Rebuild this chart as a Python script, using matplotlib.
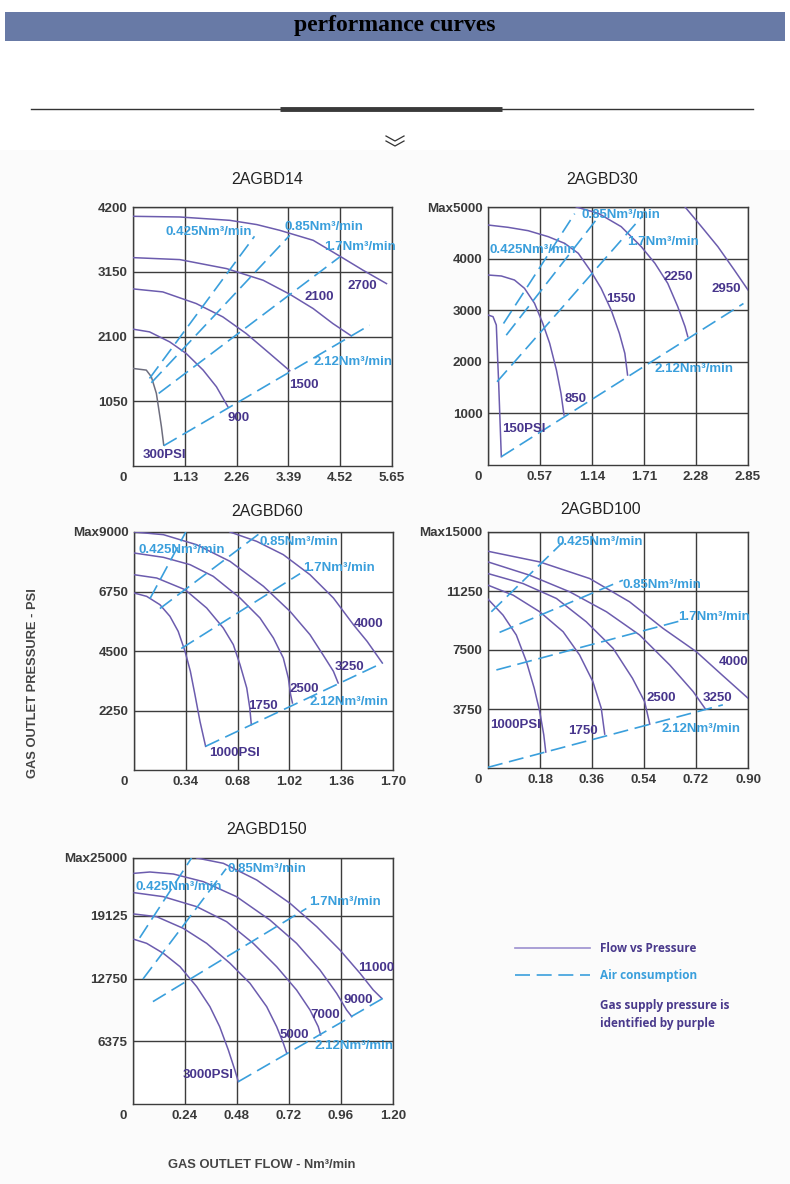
import matplotlib
matplotlib.use("Agg")
import matplotlib.pyplot as plt
from matplotlib.patches import Rectangle

W, H = 790, 1184

PURPLE = "#6c5cae"
LABEL_PURPLE = "#47358c"
BLUE = "#3a9fdc"
GRID = "#3c3c3c"
TICK = "#3a3a3a"

plt.rcParams["font.family"] = ["Liberation Sans", "DejaVu Sans"]

# ---- 2AGBD14 -------------------------------------------------------------
d14_xticks = [0, 1.13, 2.26, 3.39, 4.52, 5.65]
d14_yticks = [1050, 2100, 3150, 4200]
d14_ylabels = ["1050", "2100", "3150", "4200"]
d14_flow = {
    "2700": [0, 1.02, 2.11, 2.70, 3.20, 3.93, 4.54, 5.02, 5.53],
    "2100": [0, 1.02, 2.04, 2.84, 3.42, 3.93, 4.36, 4.76],
    "1500": [0, 0.65, 1.38, 1.96, 2.47, 2.98, 3.42],
    "900": [0, 0.36, 0.80, 1.16, 1.53, 1.82, 2.07],
    "300PSI": [0, 0.29, 0.40, 0.51, 0.62, 0.67],
}
d14_psi = {
    "2700": [4049, 4038, 3984, 3915, 3822, 3660, 3390, 3174, 2958],
    "2100": [3379, 3347, 3201, 3012, 2785, 2553, 2310, 2111],
    "1500": [2872, 2823, 2634, 2418, 2148, 1825, 1544],
    "900": [2219, 2175, 2013, 1825, 1555, 1285, 961],
    "300PSI": [1582, 1555, 1447, 1177, 637, 340],
}
d14_air = {
    "0.425": ([0.36, 2.65], [1420, 3725]),
    "0.85": ([0.40, 3.42], [1350, 3741]),
    "1.7": ([0.56, 4.51], [1177, 3390]),
    "2.12": ([0.67, 5.16], [329, 2283]),
}

# ---- 2AGBD30 -------------------------------------------------------------
d30_xticks = [0, 0.57, 1.14, 1.71, 2.28, 2.85]
d30_yticks = [1000, 2000, 3000, 4000, 5000]
d30_ylabels = ["1000", "2000", "3000", "4000", "Max5000"]
d30_flow = {
    "150PSI": [0, 0.055, 0.091, 0.102, 0.117, 0.13, 0.146],
    "850": [0, 0.146, 0.29, 0.40, 0.51, 0.60, 0.676, 0.75, 0.80, 0.833],
    "1550": [0, 0.22, 0.44, 0.66, 0.84, 0.99, 1.13, 1.24, 1.35, 1.44, 1.50, 1.53],
    "2250": [0.968, 1.21, 1.46, 1.68, 1.83, 1.97, 2.08, 2.16, 2.19],
    "2950": [2.16, 2.34, 2.52, 2.70, 2.85],
}
d30_psi = {
    "150PSI": [2907, 2875, 2713, 2229, 1583, 937, 161],
    "850": [3682, 3663, 3585, 3424, 3133, 2746, 2358, 1841, 1389, 969],
    "1550": [4651, 4606, 4541, 4425, 4296, 4102, 3747, 3424, 3004, 2552, 2164, 1744],
    "2250": [5000, 4877, 4619, 4231, 3908, 3521, 3069, 2681, 2487],
    "2950": [5000, 4619, 4231, 3779, 3392],
}
d30_air = {
    "0.425": ([0.17, 0.95], [2742, 4871]),
    "0.85": ([0.20, 1.21], [2516, 4806]),
    "1.7": ([0.099, 1.70], [1613, 4839]),
    "2.12": ([0.146, 2.80], [161, 3129]),
}

# ---- 2AGBD60 -------------------------------------------------------------
d60_xticks = [0, 0.34, 0.68, 1.02, 1.36, 1.70]
d60_yticks = [2250, 4500, 6750, 9000]
d60_ylabels = ["2250", "4500", "6750", "Max9000"]
d60_flow = {
    "1000PSI": [0, 0.083, 0.17, 0.236, 0.29, 0.335, 0.37, 0.40, 0.433, 0.47],
    "1750": [0, 0.149, 0.335, 0.477, 0.586, 0.652, 0.696, 0.74, 0.76, 0.77],
    "2500": [0, 0.193, 0.368, 0.52, 0.696, 0.827, 0.915, 0.98, 1.013, 1.028, 1.04],
    "3250": [0, 0.193, 0.41, 0.63, 0.85, 1.024, 1.155, 1.24, 1.309, 1.34],
    "4000": [0.63, 0.805, 0.98, 1.155, 1.309, 1.44, 1.53, 1.63],
}
d60_psi = {
    "1000PSI": [6693, 6567, 6252, 5811, 5244, 4487, 3731, 2849, 1840, 895],
    "1750": [7386, 7260, 6819, 6126, 5370, 4739, 3983, 3101, 2345, 1714],
    "2500": [8206, 8042, 7765, 7324, 6504, 5748, 4992, 4235, 3479, 2849, 2534],
    "3250": [9000, 8899, 8521, 7891, 6945, 6000, 5118, 4361, 3731, 3290],
    "4000": [9000, 8647, 8143, 7386, 6504, 5496, 4865, 4046],
}
d60_air = {
    "0.425": ([0.105, 0.34], [6482, 9000]),
    "0.85": ([0.17, 0.837], [6105, 9000]),
    "1.7": ([0.31, 1.09], [4594, 7426]),
    "2.12": ([0.47, 1.63], [895, 4046]),
}

# ---- 2AGBD100 ------------------------------------------------------------
d100_xticks = [0, 0.18, 0.36, 0.54, 0.72, 0.90]
d100_yticks = [3750, 7500, 11250, 15000]
d100_ylabels = ["3750", "7500", "11250", "Max15000"]
d100_flow = {
    "1000PSI": [0, 0.052, 0.098, 0.133, 0.16, 0.179, 0.193, 0.20],
    "1750": [0, 0.087, 0.179, 0.26, 0.317, 0.363, 0.392, 0.404],
    "2500": [0, 0.121, 0.237, 0.34, 0.433, 0.50, 0.542, 0.56],
    "3250": [0, 0.144, 0.283, 0.41, 0.525, 0.629, 0.71, 0.753],
    "4000": [0, 0.179, 0.352, 0.49, 0.606, 0.721, 0.81, 0.90],
}
d100_psi = {
    "1000PSI": [10732, 9718, 8451, 6761, 5070, 3592, 2113, 1014],
    "1750": [11620, 10986, 9930, 8662, 7183, 5493, 3803, 2155],
    "2500": [12359, 11725, 10775, 9296, 7606, 5704, 4225, 2789],
    "3250": [13099, 12254, 11197, 9930, 8451, 6549, 4859, 3739],
    "4000": [13775, 13099, 12042, 10563, 8873, 7394, 5915, 4437],
}
d100_air = {
    "0.425": ([0.0115, 0.26], [9930, 14366]),
    "0.85": ([0.04, 0.467], [8620, 11937]),
    "1.7": ([0.029, 0.663], [6232, 9338]),
    "2.12": ([0, 0.813], [42, 4014]),
}

# ---- 2AGBD150 ------------------------------------------------------------
d150_xticks = [0, 0.24, 0.48, 0.72, 0.96, 1.20]
d150_yticks = [6375, 12750, 19125, 25000]
d150_ylabels = ["6375", "12750", "19125", "Max25000"]
d150_flow = {
    "3000PSI": [0.005, 0.063, 0.14, 0.217, 0.294, 0.355, 0.40, 0.44, 0.47, 0.486],
    "5000": [0.005, 0.109, 0.232, 0.34, 0.448, 0.54, 0.617, 0.663, 0.694, 0.71],
    "7000": [0.005, 0.14, 0.294, 0.432, 0.555, 0.663, 0.755, 0.817, 0.855, 0.866],
    "9000": [0.005, 0.078, 0.186, 0.325, 0.478, 0.632, 0.755, 0.863, 0.94, 0.986, 1.01],
    "11000": [0.294, 0.417, 0.571, 0.725, 0.848, 0.955, 1.048, 1.109, 1.148],
}
d150_psi = {
    "3000PSI": [16734, 16328, 15312, 13956, 11924, 9892, 7859, 5488, 3455, 2270],
    "5000": [19309, 19038, 17852, 16328, 14295, 12263, 9892, 7859, 6165, 5149],
    "7000": [21477, 21070, 20054, 18530, 16328, 13957, 11585, 9553, 7859, 7012],
    "9000": [23442, 23577, 23374, 22594, 21070, 18699, 16328, 13618, 11247, 9553, 8875],
    "11000": [25000, 24458, 22764, 20393, 18021, 15650, 13279, 11585, 10738],
}
d150_air = {
    "0.425": ([0.031, 0.27], [16892, 25000]),
    "0.85": ([0.046, 0.43], [12703, 23919]),
    "1.7": ([0.092, 0.80], [10405, 19865]),
    "2.12": ([0.486, 1.154], [2270, 10743]),
}

fig = plt.figure(figsize=(W / 100, H / 100), dpi=100)
fig.patch.set_facecolor("white")


def px_axes(l, t, r, b):
    return fig.add_axes([l / W, 1 - b / H, (r - l) / W, (b - t) / H])


def draw_chart(box, title, title_x, title_y, xticks, yticks, ylabels,
               flow, psi, air, curve_lbls, air_lbls, gray_first=False):
    ax = px_axes(*box)
    ax.set_facecolor("white")
    ax.set_xlim(xticks[0], xticks[-1])
    ax.set_ylim(0, yticks[-1])
    ax.set_xticks(xticks)
    ax.set_xticklabels([""] + ["%.2f" % v for v in xticks[1:]])
    ax.set_yticks(yticks)
    ax.set_yticklabels(ylabels)
    ax.tick_params(length=0, labelsize=9.6, labelcolor=TICK)
    for lb in ax.get_xticklabels() + ax.get_yticklabels():
        lb.set_fontweight("bold")
    ax.tick_params(axis="x", pad=4)
    ax.tick_params(axis="y", pad=4)
    ax.grid(True, color=GRID, lw=1.0)
    for s in ax.spines.values():
        s.set_color(GRID)
        s.set_linewidth(1.0)
    ax.text(-10 / (box[2] - box[0]), -12 / (box[3] - box[1]), "0",
            transform=ax.transAxes, ha="center", va="center",
            fontsize=9.6, fontweight="bold", color=TICK)
    for name in flow:
        c = "#6e6e7e" if (gray_first and name.endswith("PSI")) else PURPLE
        ax.plot(flow[name], psi[name], color=c, lw=1.1, zorder=3,
                solid_joinstyle="round")
    for name, (xs, ys) in air.items():
        ax.plot(xs, ys, color=BLUE, lw=1.2, dashes=(9, 4), zorder=3)
    for name, (x, y) in curve_lbls.items():
        ax.text(x, y, name, ha="left", va="center", fontsize=9.5,
                fontweight="bold", color=LABEL_PURPLE, zorder=4)
    for name, (x, y) in air_lbls.items():
        ax.text(x, y, name + "Nm³/min", ha="left", va="center",
                fontsize=9.5, fontweight="bold", color=BLUE, zorder=4)
    fig.text(title_x / W, 1 - title_y / H, title, ha="center", va="center",
             fontsize=11.5, color="#222222")
    return ax


draw_chart((133, 207, 392, 466), "2AGBD14", 267, 180,
           d14_xticks, d14_yticks, d14_ylabels, d14_flow, d14_psi, d14_air,
           {"2700": (4.69, 2915), "2100": (3.75, 2742), "1500": (3.40, 1312),
            "900": (2.07, 772), "300PSI": (0.20, 178)},
           {"0.425": (0.71, 3795), "0.85": (3.31, 3876), "1.7": (4.18, 3552),
            "2.12": (3.93, 1690)}, gray_first=True)

draw_chart((488, 207, 748, 465), "2AGBD30", 602, 180,
           d30_xticks, d30_yticks, d30_ylabels, d30_flow, d30_psi, d30_air,
           {"2950": (2.45, 3419), "2250": (1.92, 3645), "1550": (1.30, 3226),
            "850": (0.84, 1271), "150PSI": (0.16, 690)},
           {"0.85": (1.02, 4839), "0.425": (0.018, 4174), "1.7": (1.53, 4323),
            "2.12": (1.83, 1852)})

draw_chart((134, 532, 393, 770), "2AGBD60", 267, 511,
           d60_xticks, d60_yticks, d60_ylabels, d60_flow, d60_psi, d60_air,
           {"4000": (1.44, 5538), "3250": (1.32, 3902), "2500": (1.02, 3059),
            "1750": (0.75, 2429), "1000PSI": (0.49, 629)},
           {"0.425": (0.028, 8307), "0.85": (0.826, 8622), "1.7": (1.11, 7640),
            "2.12": (1.15, 2580)})

draw_chart((488, 532, 748, 768), "2AGBD100", 601, 509,
           d100_xticks, d100_yticks, d100_ylabels, d100_flow, d100_psi, d100_air,
           {"4000": (0.80, 6761), "3250": (0.744, 4437), "2500": (0.55, 4437),
            "1750": (0.277, 2324), "1000PSI": (0.006, 2746)},
           {"0.425": (0.237, 14366), "0.85": (0.465, 11662), "1.7": (0.658, 9613),
            "2.12": (0.60, 2493)})

draw_chart((133, 858, 393, 1104), "2AGBD150", 267, 829,
           d150_xticks, d150_yticks, d150_ylabels, d150_flow, d150_psi, d150_air,
           {"11000": (1.04, 13851), "9000": (0.97, 10574), "7000": (0.82, 9054),
            "5000": (0.677, 7027), "3000PSI": (0.23, 2973)},
           {"0.85": (0.438, 23919), "0.425": (0.012, 22061), "1.7": (0.815, 20541),
            "2.12": (0.838, 5845)})

# ---- page decoration in pixel space ----------------------------------------
ov = fig.add_axes([0, 0, 1, 1], zorder=-1)
ov.set_xlim(0, W)
ov.set_ylim(H, 0)
ov.axis("off")
ov.add_patch(Rectangle((0, 150), W, H - 150, color="#fbfbfb", lw=0))
ov.add_patch(Rectangle((5, 12), 780, 29, color="#687aa6", lw=0))
ov.text(395, 26, "performance curves", ha="center", va="center",
        fontsize=17, fontweight="bold", family="Liberation Serif", color="black")
ov.plot([31, 753], [109, 109], color="#333333", lw=1.0)
ov.plot([280, 502], [109, 109], color="#3a3a3a", lw=3.5, solid_capstyle="butt")
ov.plot([386, 395, 404], [136, 141, 136], color="#333333", lw=0.9)
ov.plot([386, 395, 404], [141, 146, 141], color="#333333", lw=0.9)

# legend
ov.plot([515, 590], [948, 948], color="#9b8fcf", lw=1.2)
ov.plot([515, 590], [975, 975], color=BLUE, lw=1.2, dashes=(9, 4))
ov.text(600, 948, "Flow vs Pressure", ha="left", va="center", fontsize=8.5,
        family="Open Sans", fontweight="bold", color="#4a3a8c")
ov.text(600, 975, "Air consumption", ha="left", va="center", fontsize=8.5,
        family="Open Sans", fontweight="bold", color=BLUE)
ov.text(600, 1005, "Gas supply pressure is", ha="left", va="center", fontsize=8.5,
        family="Open Sans", fontweight="bold", color="#4a3a8c")
ov.text(600, 1023, "identified by purple", ha="left", va="center", fontsize=8.5,
        family="Open Sans", fontweight="bold", color="#4a3a8c")

# axis titles
ov.text(33, 683, "GAS OUTLET PRESSURE - PSI", rotation=90, ha="center",
        va="center", fontsize=9.3, fontweight="bold", color="#444444")
ov.text(262, 1165, "GAS OUTLET FLOW - Nm³/min", ha="center", va="center",
        fontsize=9.3, fontweight="bold", color="#444444")

fig.savefig("out.png", dpi=100)
